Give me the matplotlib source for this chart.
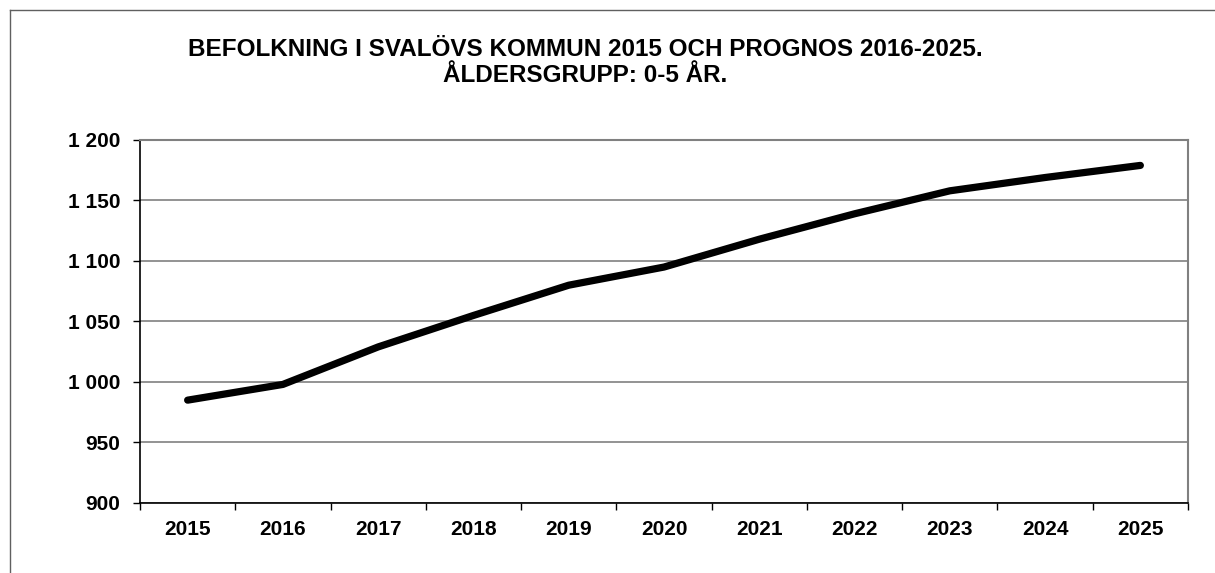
import matplotlib
matplotlib.use("Agg")
import matplotlib.pyplot as plt
from matplotlib.ticker import FixedLocator, NullFormatter, FixedFormatter
from matplotlib.lines import Line2D

years = ["2015", "2016", "2017", "2018", "2019", "2020", "2021", "2022", "2023", "2024", "2025"]
population = [985, 998, 1029, 1055, 1080, 1095, 1118, 1139, 1158, 1169, 1179]
y_ticks = [900, 950, 1000, 1050, 1100, 1150, 1200]
y_labels = ["900", "950", "1 000", "1 050", "1 100", "1 150", "1 200"]
title_lines = ["BEFOLKNING I SVALÖVS KOMMUN 2015 OCH PROGNOS 2016-2025.", "ÅLDERSGRUPP: 0-5 ÅR."]

plt.rcParams['font.family'] = ['Liberation Sans', 'DejaVu Sans']

fig = plt.figure(figsize=(12.15, 5.73), dpi=100)
ax = fig.add_axes([140/1215, 70/573, (1188-140)/1215, (503-140)/573])

x = list(range(len(years)))
ax.plot(x, population, color='black', lw=5.2, solid_capstyle='round', solid_joinstyle='round', zorder=3)

ax.set_xlim(-0.5, len(years) - 0.5)
ax.set_ylim(900, 1200)

ax.yaxis.set_major_locator(FixedLocator(y_ticks))
ax.yaxis.set_major_formatter(FixedFormatter(y_labels))
ax.grid(axis='y', color='#808080', lw=1.2, zorder=1)

ax.xaxis.set_major_locator(FixedLocator([i - 0.5 for i in range(len(years) + 1)]))
ax.xaxis.set_major_formatter(NullFormatter())
ax.xaxis.set_minor_locator(FixedLocator(x))
ax.xaxis.set_minor_formatter(FixedFormatter(years))
ax.tick_params(axis='x', which='major', length=5, width=1, color='black', direction='out')
ax.tick_params(axis='x', which='minor', length=0, pad=12, labelsize=15)
ax.tick_params(axis='y', length=5, width=1, color='black', direction='out', pad=9, labelsize=15)
for lab in ax.get_xticklabels(minor=True) + ax.get_yticklabels():
    lab.set_fontweight('bold')

ax.spines['left'].set_color('black')
ax.spines['bottom'].set_color('black')
ax.spines['left'].set_linewidth(1.2)
ax.spines['bottom'].set_linewidth(1.2)
ax.spines['top'].set_color('#808080')
ax.spines['right'].set_color('#808080')
ax.spines['top'].set_linewidth(1.5)
ax.spines['right'].set_linewidth(1.5)

fig.text(585/1215, 1 - 49/573, title_lines[0], ha='center', va='center', fontsize=17.5, fontweight='bold')
fig.text(585/1215, 1 - 75/573, title_lines[1], ha='center', va='center', fontsize=17.5, fontweight='bold')

# outer chart frame (left and top edges visible)
fig.add_artist(Line2D([10/1215, 10/1215], [0, 1 - 10/573], transform=fig.transFigure, color='#606060', lw=1))
fig.add_artist(Line2D([10/1215, 1], [1 - 10/573, 1 - 10/573], transform=fig.transFigure, color='#606060', lw=1))

fig.savefig("out.png", dpi=100, facecolor='white')
